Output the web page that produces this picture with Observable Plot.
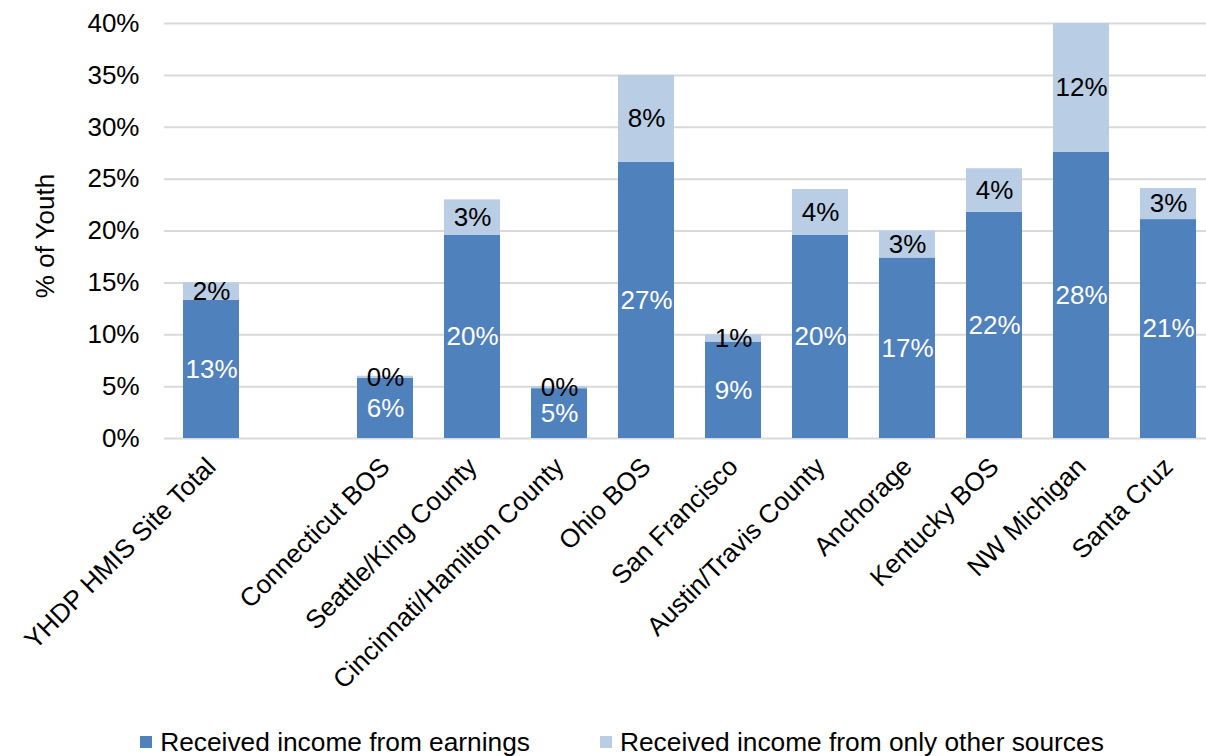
<!DOCTYPE html>
<html>
<head>
<meta charset="utf-8">
<script src="https://cdn.jsdelivr.net/npm/d3@7"></script>
<script src="https://cdn.jsdelivr.net/npm/@observablehq/plot@0.6"></script>
<style>
  html, body { margin: 0; padding: 0; background: #fff; }
  body { width: 1206px; height: 756px; overflow: hidden; font-family: "Liberation Sans", Arial, sans-serif; }
  #legend { display: flex; justify-content: center; align-items: center; gap: 70px; padding-left: 38px; margin-top: 12px; font-size: 26.3px; line-height: 30px; color: #000; white-space: nowrap; }
  .item { display: flex; align-items: center; gap: 8px; }
  .sw { width: 12px; height: 12px; display: inline-block; }
</style>
</head>
<body>
<div id="chart"></div>
<div id="legend"></div>
<script>
const categories = ["YHDP HMIS Site Total", "", "Connecticut BOS", "Seattle/King County", "Cincinnati/Hamilton County", "Ohio BOS", "San Francisco", "Austin/Travis County", "Anchorage", "Kentucky BOS", "NW Michigan", "Santa Cruz"];
const sites = ["YHDP HMIS Site Total", "Connecticut BOS", "Seattle/King County", "Cincinnati/Hamilton County", "Ohio BOS", "San Francisco", "Austin/Travis County", "Anchorage", "Kentucky BOS", "NW Michigan", "Santa Cruz"];
const earnings = [13.3, 5.8, 19.6, 4.8, 26.6, 9.3, 19.6, 17.4, 21.8, 27.6, 21.1];
const otherSources = [1.7, 0.2, 3.4, 0.2, 8.4, 0.7, 4.4, 2.6, 4.2, 12.4, 3.0];
const seriesNames = ["Received income from earnings", "Received income from only other sources"];
const seriesColors = ["#4F81BD", "#B9CDE5"];
const labelColors = ["#ffffff", "#000000"];
const yTicks = [0, 5, 10, 15, 20, 25, 30, 35, 40];

const rows = [];
sites.forEach((s, i) => {
  rows.push({site: s, series: seriesNames[0], value: earnings[i]});
  rows.push({site: s, series: seriesNames[1], value: otherSources[i]});
});

const chart = Plot.plot({
  width: 1206,
  height: 715,
  marginLeft: 164,
  marginRight: 0,
  marginTop: 23,
  marginBottom: 277,
  style: {fontFamily: "'Liberation Sans', Arial, sans-serif", fontSize: "26px", color: "#000", background: "#fff", overflow: "visible"},
  x: {domain: categories, paddingInner: 0.36, paddingOuter: 0.18, range: [164, 1214], label: null},
  y: {domain: [0, 40], ticks: yTicks, label: null},
  color: {domain: seriesNames, range: seriesColors},
  marks: [
    Plot.gridY(yTicks, {stroke: "#D9D9D9", strokeOpacity: 1, strokeWidth: 2}),
    Plot.barY(rows, {x: "site", y: "value", fill: "series", order: seriesNames}),
    Plot.text(rows, Plot.stackY({x: "site", y: "value", z: "series", order: seriesNames,
      text: d => Math.round(d.value) + "%",
      fill: d => labelColors[seriesNames.indexOf(d.series)],
      fontSize: 26})),
    Plot.axisY(yTicks, {tickSize: 0, tickPadding: 25, tickFormat: d => d + "%", fontSize: 26}),
    Plot.axisX({tickSize: 0, tickRotate: -45, tickPadding: 24, fontSize: 26}),
    Plot.text(["% of Youth"], {frameAnchor: "left", textAnchor: "middle", dx: -119, dy: 5, rotate: -90, fontSize: 26})
  ]
});
document.getElementById("chart").appendChild(chart);

const legend = document.getElementById("legend");
seriesNames.forEach((n, i) => {
  const it = document.createElement("div");
  it.className = "item";
  const sw = document.createElement("span");
  sw.className = "sw";
  sw.style.background = seriesColors[i];
  const t = document.createElement("span");
  t.textContent = n;
  it.appendChild(sw);
  it.appendChild(t);
  legend.appendChild(it);
});
</script>
</body>
</html>
